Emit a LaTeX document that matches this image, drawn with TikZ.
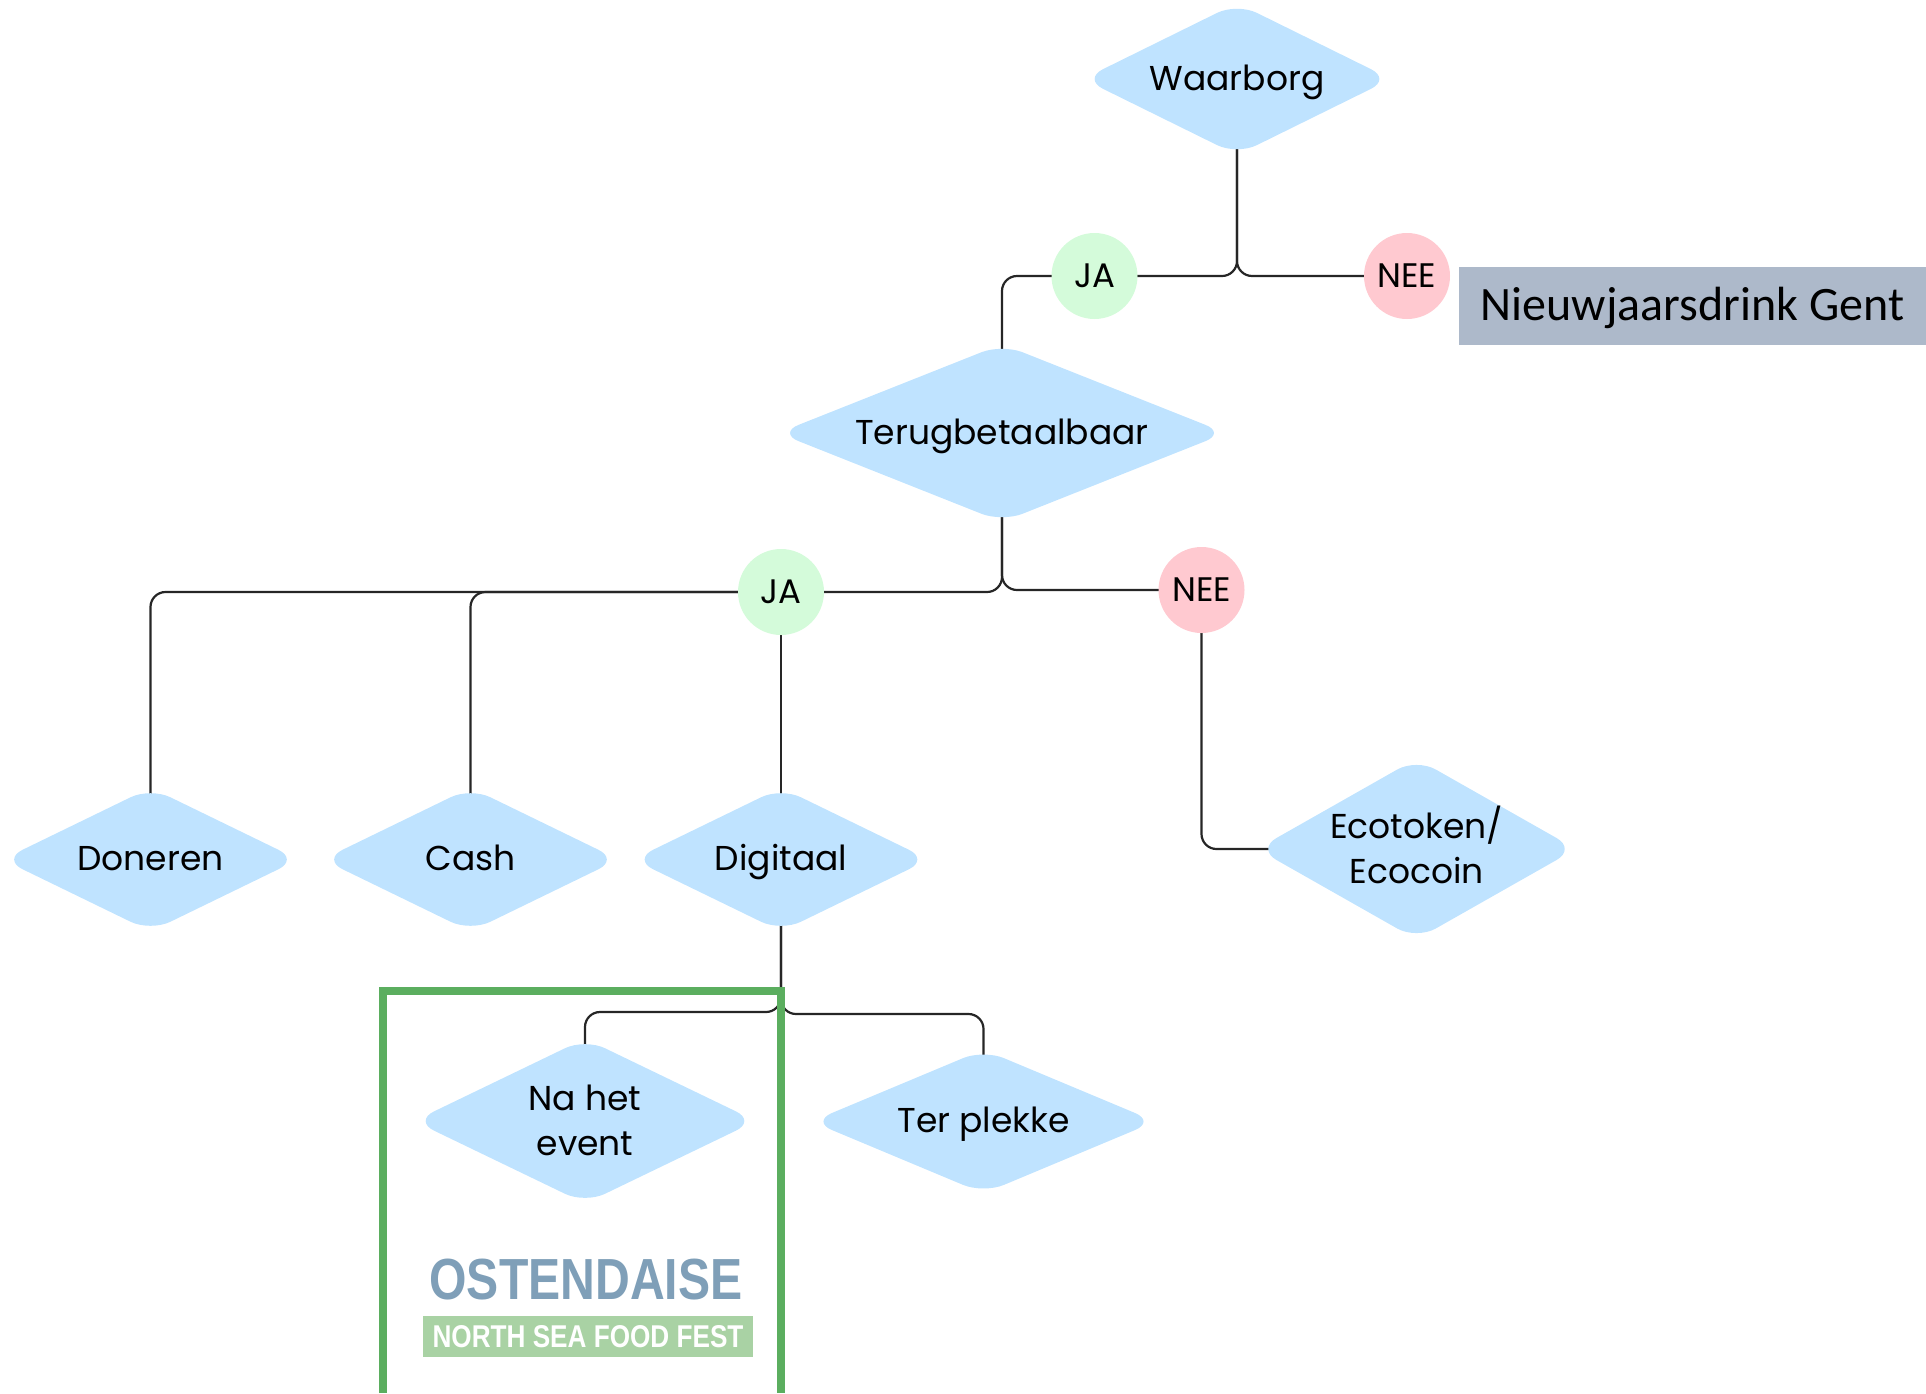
\documentclass[tikz,border=0pt]{standalone}
\usepackage{fontspec}
\usepackage{tikz}
\usetikzlibrary{shapes.geometric,backgrounds}
\setmainfont{Poppins}
\newfontfamily\notefont{Carlito}
\newfontfamily\logofont[FakeStretch=0.83]{Liberation Sans}
\definecolor{decfill}{HTML}{BFE3FF}
\definecolor{yesfill}{HTML}{D4FBDA}
\definecolor{nofill}{HTML}{FFC9D0}
\definecolor{notefill}{HTML}{ADB9CA}
\definecolor{framegreen}{HTML}{5BAE5F}
\definecolor{logoblue}{HTML}{7F9FB8}
\definecolor{stripgreen}{HTML}{A9D2A4}

\begin{document}
\begin{tikzpicture}
  [
    x=1pt, y=-1pt,
    every label/.style =
      {font=\fontsize{34.5}{45}\selectfont, align=center, inner sep=0pt,
       yshift=-2pt, execute at begin node=\strut},
    decision/.style 2 args =
      {shape=diamond, fill=decfill, rounded corners=22pt, inner sep=0pt,
       minimum width=#1pt+22pt, minimum height=#2pt+11pt},
    answer/.style =
      {shape=circle, minimum size=86pt, inner sep=0pt,
       font=\fontsize{34}{40}\selectfont},
    wire/.style =
      {line width=2.2pt, draw=black!85, rounded corners=15pt,
       shorten <=-12pt, shorten >=-12pt}
  ]

\useasboundingbox (0,0) rectangle (1926,1393);

\node[decision={286}{141}, label=center:Waarborg] (waarborg) at (1237,79) {};
\node[decision={426}{167}, label=center:Terugbetaalbaar] (terug) at (1002,433) {};
\node[decision={274}{133}, label=center:Doneren] (doneren) at (150.5,859.5) {};
\node[decision={274}{133}, label=center:Cash] (cash) at (470.5,859.5) {};
\node[decision={274}{133}, label=center:Digitaal] (digitaal) at (781,859.5) {};
\node[decision={297}{170}, label={center:Ecotoken/\\Ecocoin\strut}] (ecotoken) at (1416.5,849) {};
\node[decision={320}{154}, label={[yshift=-3.5pt]center:Na het\\event\strut}] (nahet) at (585,1121) {};
\node[decision={322}{133}, label=center:Ter plekke] (terplekke) at (983.5,1121.5) {};

\node[answer, fill=yesfill] (ja1) at (1094.5,276) {JA};
\node[answer, fill=nofill] (nee1) at (1407,276) {NEE};
\node[answer, fill=yesfill] (ja2) at (781,592) {JA};
\node[answer, fill=nofill] (nee2) at (1201.5,590) {NEE};

\node[fill=notefill, minimum width=467pt, minimum height=78pt, inner sep=0pt,
      text height=40pt, text depth=12pt,
      font=\notefont\fontsize{48}{50}\selectfont] (note) at (1692.5,306) {Nieuwjaarsdrink Gent};

\coordinate (leftfork) at (680,1012);
\coordinate (rightfork) at (880,1014);

\begin{scope}[on background layer]
\draw [wire] (waarborg.south) |- (ja1.east);
\draw [wire] (waarborg.south) |- (nee1.west);
\draw [wire] (ja1.west) -| (terug.north);
\draw [wire] (terug.south) |- (ja2.east);
\draw [wire] (terug.south) |- (nee2.west);
\draw [wire] (ja2.west) -| (doneren.north);
\draw [wire] (ja2.west) -| (cash.north);
\draw [wire] (ja2.south) -- (digitaal.north);
\draw [wire] (nee2.south) |- (ecotoken.west);
\draw [wire] (digitaal.south) |- (leftfork) -| (nahet.north);
\draw [wire] (digitaal.south) |- (rightfork) -| (terplekke.north);
\end{scope}

\draw [line width=8pt, framegreen] (383,1393) |- (780.5,991) -- (780.5,1393);

\node[font=\logofont\bfseries\fontsize{58}{60}\selectfont, text=logoblue, inner sep=0pt] (ostendaise) at (586,1280) {OSTENDAISE};
\node[fill=stripgreen, text=white, minimum width=330pt, minimum height=41pt, inner sep=0pt,
      font=\logofont\bfseries\fontsize{31.5}{33}\selectfont] (foodfest) at (588,1336.5) {NORTH SEA FOOD FEST};

\end{tikzpicture}
\end{document}
